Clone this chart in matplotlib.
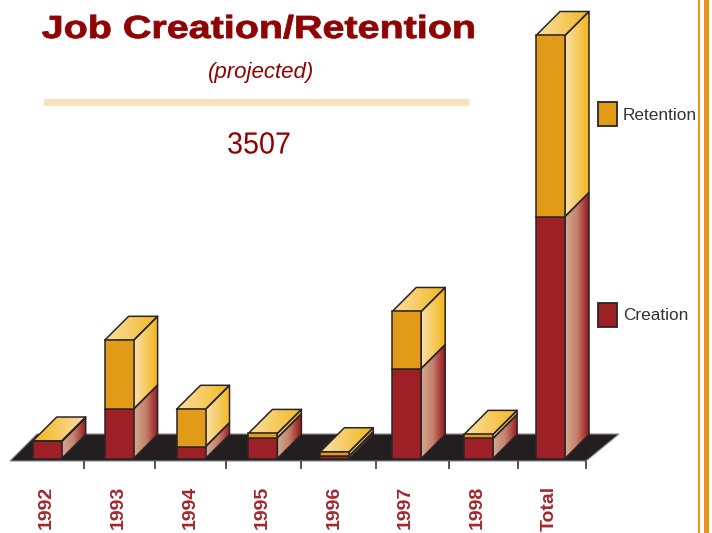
import numpy as np
import matplotlib
matplotlib.use("Agg")
import matplotlib.pyplot as plt
from matplotlib.patches import Polygon, Rectangle
from matplotlib.colors import LinearSegmentedColormap
from matplotlib.patheffects import AbstractPathEffect
from matplotlib.transforms import Affine2D

years = ["1992", "1993", "1994", "1995", "1996", "1997", "1998", "Total"]
creation = [141, 410, 98, 172, 23, 746, 167, 2006]
retention = [4, 570, 310, 36, 33, 473, 33, 1501]
total_label = "3507"
tick_px = [84, 155, 226, 301, 376, 449, 517.5, 586]

W, H = 712, 533
UNITS_PER_PX = 3507 / 423.0
PX_PER_CAT = 71.9
X0, Y0 = 32.7, 458.5


def px_x(p):
    return (p - X0) / PX_PER_CAT


def px_y(p):
    return (Y0 - p) * UNITS_PER_PX


class StretchX(AbstractPathEffect):
    """Draw text glyphs stretched horizontally about a pixel column, optionally thickened."""

    def __init__(self, sx, cx, stroke=0.0):
        super().__init__()
        self.sx, self.cx, self.stroke = sx, cx, stroke

    def draw_path(self, renderer, gc, tpath, affine, rgbFace=None):
        t = affine + Affine2D().translate(-self.cx, 0).scale(self.sx, 1).translate(self.cx, 0)
        if self.stroke:
            gc0 = renderer.new_gc()
            gc0.copy_properties(gc)
            gc0.set_linewidth(self.stroke)
            gc0.set_foreground(rgbFace)
            renderer.draw_path(gc0, tpath, t, rgbFace)
            gc0.restore()
        else:
            renderer.draw_path(gc, tpath, t, rgbFace)


plt.rcParams['font.family'] = ['Liberation Sans', 'DejaVu Sans']
fig = plt.figure(figsize=(W / 100, H / 100), dpi=100)
ax = fig.add_axes([0, 0, 1, 1])
ax.set_axis_off()

BW = 29 / PX_PER_CAT
DX = 24 / PX_PER_CAT
DY = 24 * UNITS_PER_PX
EDGE = "#2a2526"
LW = 1.1
RED = "#9d2026"
ORANGE = "#e29a19"
TITLE = "#8f0303"
cm_ret = LinearSegmentedColormap.from_list("r", ["#fbe0a6", "#f3b61f"])
cm_ret_rev = LinearSegmentedColormap.from_list("rr", ["#f3b61f", "#fbe0a6"])
cm_cre = LinearSegmentedColormap.from_list("c", ["#d3aa93", "#c4806a", "#97161f"])
grad = np.linspace(0, 1, 128).reshape(1, -1)


def gradient_poly(pts, cmap, z):
    pts = np.array(pts)
    poly = Polygon(pts, closed=True, fc="none", ec="none", zorder=z)
    ax.add_patch(poly)
    im = ax.imshow(grad, cmap=cmap, aspect="auto", zorder=z, interpolation="bilinear",
                   extent=[pts[:, 0].min(), pts[:, 0].max(), pts[:, 1].min(), pts[:, 1].max()])
    im.set_clip_path(poly)
    ax.add_patch(Polygon(pts, closed=True, fc="none", ec=EDGE, lw=LW, zorder=z + 0.1,
                         joinstyle="round"))


# floor
ax.add_patch(Polygon([[px_x(10), px_y(461)], [px_x(586), px_y(461)],
                      [px_x(619), px_y(434)], [px_x(37), px_y(434)]],
                     closed=True, fc="#231f20", ec="#8a8a8a", lw=0.8, zorder=1))

# ticks below the floor
ax.vlines([px_x(t) for t in tick_px], px_y(469), px_y(461), color="#3a3a3a", lw=1.2, zorder=1)

# bars
for i, (c, r) in enumerate(zip(creation, retention)):
    z = 3 + i
    x0, x1 = i, i + BW
    top = c + r
    gradient_poly([[x1, 0], [x1 + DX, DY], [x1 + DX, c + DY], [x1, c]], cm_cre, z)
    gradient_poly([[x1, c], [x1 + DX, c + DY], [x1 + DX, top + DY], [x1, top]], cm_ret, z)
    gradient_poly([[x0, top], [x1, top], [x1 + DX, top + DY], [x0 + DX, top + DY]],
                  cm_ret_rev if i == 0 else cm_ret, z)
    ax.add_patch(Rectangle((x0, 0), BW, c, fc=RED, ec=EDGE, lw=LW, zorder=z + 0.2))
    ax.add_patch(Rectangle((x0, c), BW, r, fc=ORANGE, ec=EDGE, lw=LW, zorder=z + 0.2))
    ax.text(i + 13.5 / PX_PER_CAT, px_y(486), years[i], rotation=90, ha="center", va="top",
            color="#a3262c", fontsize=14, fontweight="bold", zorder=20)

ax.set_xlim(px_x(0), px_x(W))
ax.set_ylim(px_y(H), px_y(0))

# heading
ax.text(px_x(259), px_y(38), "Job Creation/Retention", ha="center", va="baseline",
        color=TITLE, fontsize=23, fontweight="bold", zorder=20,
        path_effects=[StretchX(1.236, 259, stroke=0.6)])
ax.text(px_x(261.5), px_y(78), "(projected)", ha="center", va="baseline",
        color=TITLE, fontsize=16, style="italic", zorder=20)
ax.add_patch(Rectangle((px_x(44), px_y(106)), px_x(469) - px_x(44), px_y(99) - px_y(106),
                       fc="#fbe0c0", ec="none", zorder=2))
ax.text(px_x(259), px_y(153.5), total_label, ha="center", va="baseline",
        color=TITLE, fontsize=22, zorder=20, path_effects=[StretchX(0.94, 259)])

# legend
for label, col, ytop, ybot, base in [("Retention", ORANGE, 102, 126.5, 120),
                                     ("Creation", RED, 303, 327, 320)]:
    ax.add_patch(Rectangle((px_x(598), px_y(ybot)), px_x(616.5) - px_x(598), px_y(ytop) - px_y(ybot),
                           fc=col, ec=EDGE, lw=LW + 0.2, zorder=20))
    ax.text(px_x(623), px_y(base), label, ha="left", va="baseline",
            color="#333333", fontsize=12.4, zorder=20)

# page rules at right
for a, b in [(698, 700), (704, 709)]:
    ax.add_patch(Rectangle((px_x(a), px_y(H)), px_x(b) - px_x(a), px_y(0) - px_y(H),
                           fc="#e8951a", ec="none", zorder=2))

fig.savefig("out.png", dpi=100)
